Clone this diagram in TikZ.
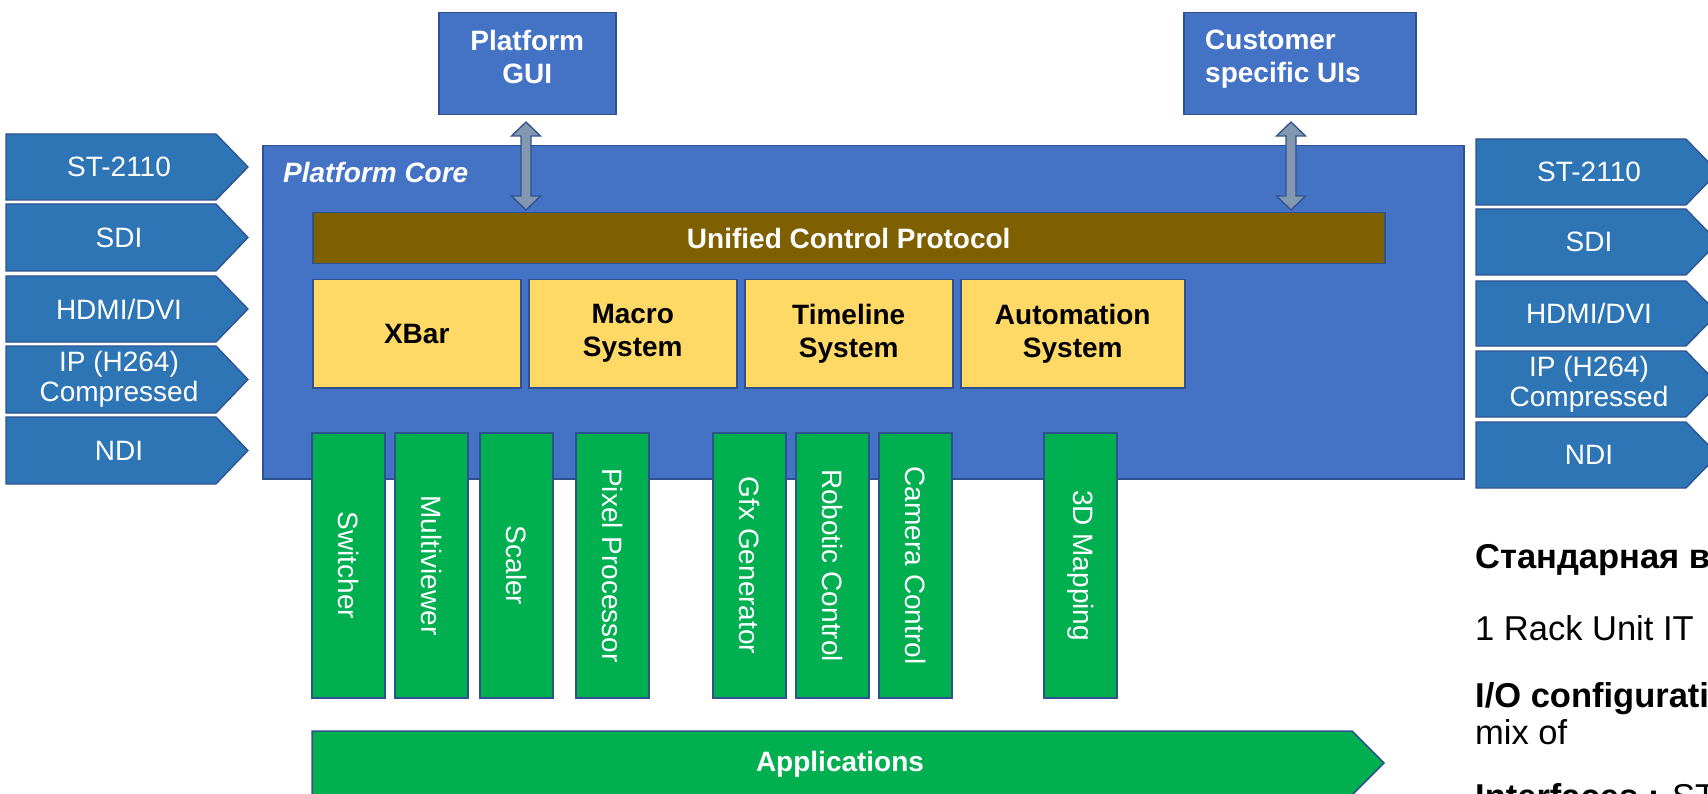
\documentclass[tikz,border=0pt]{standalone}
\usepackage{fontspec}
\setmainfont{Liberation Sans}
\usetikzlibrary{calc}
\definecolor{coreblue}{HTML}{4472C4}
\definecolor{edgeblue}{HTML}{2F528F}
\definecolor{ioblue}{HTML}{2E75B6}
\definecolor{ucpbrown}{HTML}{7F6000}
\definecolor{ylw}{HTML}{FFD966}
\definecolor{grn}{HTML}{00B050}
\definecolor{arrgray}{HTML}{8497B0}
\newcommand\fsz{\fontsize{28}{33}\selectfont}
\newcommand\sidefs{\fontsize{34.5}{37}\selectfont}
\newcommand\ioarr[6]{%
  \path[ioshape] (#2,#3) -- (#2+210,#3) -- (#2+242,{(#3+#4)/2}) -- (#2+210,#4) -- (#2,#4) -- cycle;
  \node[iotext] (#1) at (#6,{(#3+#4)/2}) {#5};}
\newcommand\greenbar[3]{\node[gbar] (#1) at (#2+36.5,565.5) {#3};}
\newcommand\dblarr[2]{%
  \path[dblshape] ($#1$) -- ($#1+(14.5,14)$) -- ($#1+(5,14)$) -- ($#2+(5,-14)$) -- ($#2+(14.5,-14)$) -- ($#2$)
   -- ($#2+(-14.5,-14)$) -- ($#2+(-5,-14)$) -- ($#1+(-5,14)$) -- ($#1+(-14.5,14)$) -- cycle;}
\begin{document}
\begin{tikzpicture}[x=1pt,y=-1pt,
  box/.style={draw=edgeblue, line width=1.5pt, inner sep=0pt, anchor=north west, align=center},
  ioshape/.style={fill=ioblue, draw=edgeblue, line width=1.3pt},
  iotext/.style={text=white, align=center, inner sep=0pt, font=\fontsize{28}{30}\selectfont},
  dblshape/.style={fill=arrgray, draw=edgeblue, line width=1.3pt},
  ybox/.style={box, fill=ylw, minimum height=108, font=\fsz\bfseries, text=black},
  gbar/.style={draw=edgeblue, line width=1.5pt, fill=grn, inner sep=0pt, rotate=-90,
    minimum width=265, minimum height=73, text=white, font=\fsz},
  wtxt/.style={text=white, inner sep=0pt, font=\fsz\bfseries},
  btxt/.style={text=black, inner sep=0pt, anchor=base west, font=\sidefs}]
\useasboundingbox (0,0) rectangle (1708,794);
\clip (0,0) rectangle (1708,794);

% platform core
\node[box, fill=coreblue, minimum width=1201, minimum height=333] (core) at (262,145) {};
\node[wtxt, anchor=base west, font=\fsz\bfseries\itshape] (coretitle) at (283,183) {Platform Core};

% top boxes
\node[box, fill=coreblue, minimum width=177, minimum height=102] (gui) at (438,12) {};
\node[wtxt, anchor=north, align=center] (guitxt) at ($(gui.north)+(0,18)$) {Platform\\GUI};
\node[box, fill=coreblue, minimum width=232, minimum height=102] (cust) at (1183,12) {};
\node[wtxt, anchor=north west, align=left] (custtxt) at (1205,30) {Customer\\specific UIs};

% unified control protocol
\node[box, fill=ucpbrown, minimum width=1072, minimum height=51, text=white, font=\fsz\bfseries] (ucp) at (312,212) {Unified Control Protocol};

% double arrows
\coordinate (gA) at (526,122);
\coordinate (gB) at (526,210);
\coordinate (cA) at (1291,122);
\coordinate (cB) at (1291,210);
\dblarr{(gA)}{(gB)}
\dblarr{(cA)}{(cB)}

% yellow systems
\node[ybox, minimum width=208] (xbar) at (312,279) {XBar};
\node[ybox, minimum width=208] (macro) at (528,279) {Macro\\System};
\node[ybox, minimum width=208] (timeline) at (744,279) {Timeline\\System};
\node[ybox, minimum width=224] (auto) at (960,279) {Automation\\System};

% green bars
\greenbar{sw}{312}{Switcher}
\greenbar{mv}{395}{Multiviewer}
\greenbar{sc}{480}{Scaler}
\greenbar{pp}{576}{Pixel Processor}
\greenbar{gfx}{713}{Gfx Generator}
\greenbar{rob}{796}{Robotic Control}
\greenbar{cam}{879}{Camera Control}
\greenbar{map}{1044}{3D Mapping}

% applications
\path[fill=grn, draw=edgeblue, line width=1.5pt] (312,731) -- (1352,731) -- (1384,763) -- (1352,795) -- (312,795) -- cycle;
\node[wtxt] (apps) at (840,764) {Applications};

% left inputs
\ioarr{lst}{6}{134}{200}{ST-2110}{119}
\ioarr{lsdi}{6}{204}{271}{SDI}{119}
\ioarr{lhdmi}{6}{276}{342}{HDMI/DVI}{119}
\ioarr{lip}{6}{346}{413}{IP (H264)\\Compressed}{119}
\ioarr{lndi}{6}{417}{484}{NDI}{119}

% right outputs
\ioarr{rst}{1476}{139}{205}{ST-2110}{1589}
\ioarr{rsdi}{1476}{209}{275}{SDI}{1589}
\ioarr{rhdmi}{1476}{281}{346}{HDMI/DVI}{1589}
\ioarr{rip}{1476}{351}{417}{IP (H264)\\Compressed}{1589}
\ioarr{rndi}{1476}{422}{488}{NDI}{1589}

% side text
\node[btxt, font=\sidefs\bfseries] (t1) at (1475,568) {Стандарная в};
\node[btxt] (t2) at (1475,640) {1 Rack Unit IT};
\node[btxt, font=\sidefs\bfseries] (t3) at (1475,707) {I/O configurati};
\node[btxt] (t4) at (1475,744) {mix of};
\node[btxt] (t5) at (1475,808) {\textbf{Interfaces :} ST};
\end{tikzpicture}
\end{document}
